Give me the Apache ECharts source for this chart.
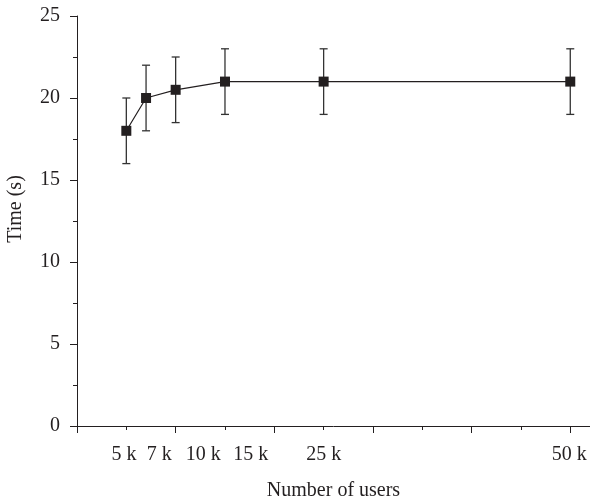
<!DOCTYPE html>
<html>
<head>
<meta charset="utf-8">
<script src="https://cdn.jsdelivr.net/npm/echarts@6/dist/echarts.min.js"></script>
<style>
  html, body { margin: 0; padding: 0; background: #fff; }
  #chart { width: 590px; height: 502px; }
</style>
</head>
<body>
<div id="chart"></div>
<script>
// Number of users (thousands) and mean response time with spread
const users = [5, 7, 10, 15, 25, 50];
const timeMean = [18, 20, 20.5, 21, 21, 21];
const timeLow = [16, 18, 18.5, 19, 19, 19];
const timeHigh = [20, 22, 22.5, 23, 23, 23];
const tickLabels = ['5 k', '7 k', '10 k', '15 k', '25 k', '50 k'];

// Where the x labels sit along the axis (spread out so they don't collide)
const labelSlots = [4.76, 8.34, 12.8, 17.6, 25.0, 49.9];

const FONT = '"Liberation Serif", "DejaVu Serif", serif';
const INK = '#231f20';
const FS = 20;

const chart = echarts.init(document.getElementById('chart'), null, { renderer: 'canvas' });

const meanPoints = users.map((u, i) => [u, timeMean[i]]);
const barPoints = users.map((u, i) => [u, timeLow[i], timeHigh[i]]);

chart.setOption({
  animation: false,
  backgroundColor: '#fff',
  grid: { left: 77, right: 0, top: 16, bottom: 76, containLabel: false, outerBoundsMode: 'none' },
  xAxis: [
    {
      type: 'value', min: 0, max: 52,
      name: 'Number of users', nameLocation: 'middle', nameGap: 55,
      nameTextStyle: { fontFamily: FONT, fontSize: FS, color: INK },
      axisLine: { show: true, onZero: false, lineStyle: { color: INK, width: 1 } },
      axisTick: { show: true, inside: false, length: 7, customValues: [0, 10, 20, 30, 40, 50], lineStyle: { color: INK } },
      axisLabel: {
        show: true, margin: 19, fontFamily: FONT, fontSize: FS, color: INK,
        customValues: labelSlots,
        formatter: v => tickLabels[labelSlots.indexOf(v)] || ''
      },
      splitLine: { show: false }
    },
    {
      type: 'value', min: 0, max: 52, position: 'bottom',
      axisLine: { show: false },
      axisTick: { show: true, inside: false, length: 4, customValues: [5, 15, 25, 35, 45], lineStyle: { color: INK } },
      axisLabel: { show: false },
      splitLine: { show: false }
    }
  ],
  yAxis: {
    type: 'value', min: 0, max: 25, interval: 5,
    name: 'Time (s)', nameLocation: 'middle', nameGap: 51,
    nameTextStyle: { fontFamily: FONT, fontSize: FS, color: INK, padding: [0, 0, 0, 24] },
    axisLine: { show: true, lineStyle: { color: INK, width: 1 } },
    axisTick: { show: true, inside: false, length: 7, lineStyle: { color: INK } },
    minorTick: { show: true, splitNumber: 2, length: 4, lineStyle: { color: INK } },
    axisLabel: { margin: 17, fontFamily: FONT, fontSize: FS, color: INK },
    splitLine: { show: false }
  },
  series: [
    {
      type: 'custom',
      name: 'spread',
      data: barPoints,
      z: 1,
      renderItem: (params, api) => {
        const top = api.coord([api.value(0), api.value(2)]);
        const bot = api.coord([api.value(0), api.value(1)]);
        const half = 4;
        const style = { stroke: '#333', lineWidth: 1.3 };
        return {
          type: 'group',
          children: [
            { type: 'line', shape: { x1: top[0], y1: top[1], x2: bot[0], y2: bot[1] }, style },
            { type: 'line', shape: { x1: top[0] - half, y1: top[1], x2: top[0] + half, y2: top[1] }, style },
            { type: 'line', shape: { x1: bot[0] - half, y1: bot[1], x2: bot[0] + half, y2: bot[1] }, style }
          ]
        };
      }
    },
    {
      type: 'line',
      name: 'time',
      data: meanPoints,
      z: 2,
      symbol: 'rect',
      symbolSize: 10,
      lineStyle: { color: INK, width: 1.2 },
      itemStyle: { color: INK },
      emphasis: { disabled: true }
    }
  ]
});
</script>
</body>
</html>
